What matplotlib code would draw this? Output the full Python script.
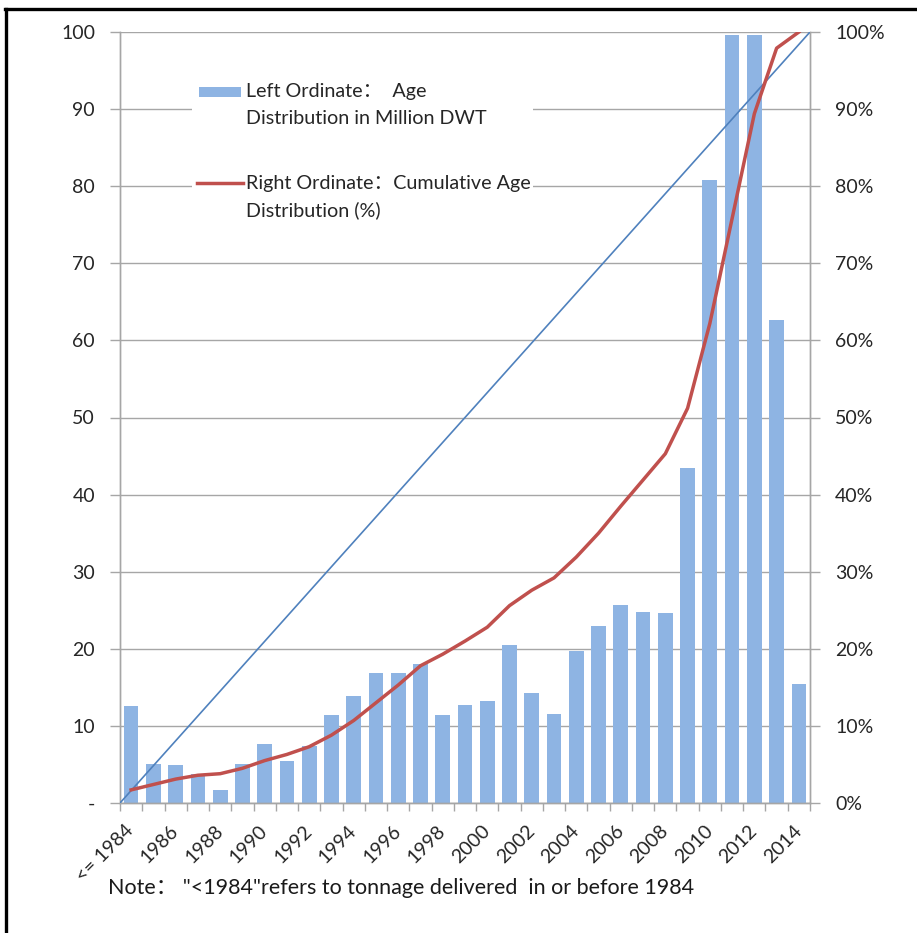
import matplotlib
matplotlib.use('Agg')
import matplotlib.pyplot as plt
from matplotlib.patches import Rectangle
from matplotlib.lines import Line2D
import numpy as np

plt.rcParams['font.family'] = ['Lato', 'Noto Sans CJK SC', 'DejaVu Sans']

# age distribution of the fleet
years = ['<= 1984'] + [str(y) for y in range(1985, 2015)]
dwt_mn = [12.6, 5.1, 4.9, 3.7, 1.7, 5.1, 7.6, 5.4, 7.4, 11.4,
          13.9, 16.9, 16.9, 18.0, 11.4, 12.7, 13.2, 20.5, 14.3, 11.5,
          19.7, 23.0, 25.7, 24.8, 24.7, 43.5, 80.8, 99.6, 99.6, 62.6,
          15.4]
cum_pct = [1.7, 2.4, 3.1, 3.6, 3.8, 4.5, 5.5, 6.3, 7.3, 8.8,
           10.7, 13.0, 15.3, 17.8, 19.3, 21.0, 22.8, 25.6, 27.6, 29.2,
           31.9, 35.0, 38.5, 41.9, 45.3, 51.2, 62.2, 75.8, 89.4, 97.9,
           100.0]
left_ticks = [0, 10, 20, 30, 40, 50, 60, 70, 80, 90, 100]
left_labels = ['-'] + [str(t) for t in left_ticks[1:]]
right_labels = ['%d%%' % t for t in left_ticks]

bar_c = '#8EB4E3'
red_c = '#C0504D'
blue_c = '#4F81BD'
grid_c = '#A6A6A6'
fs = 14

W, H = 917, 933
fig = plt.figure(figsize=(W / 100, H / 100), dpi=100)
x0, x1, yb, yt = 120, 810, 803, 32
ax = fig.add_axes([x0 / W, 1 - yb / H, (x1 - x0) / W, (yb - yt) / H])
ax2 = ax.twinx()

x = np.arange(len(years))
ax.bar(x, dwt_mn, width=0.66, color=bar_c, zorder=2)
ax.set_xlim(-0.5, len(years) - 0.5)
ax.set_ylim(0, 100)
ax.set_yticks(left_ticks)
ax.set_yticklabels(left_labels, fontsize=fs, color='#262626')
ax.yaxis.grid(True, color=grid_c, lw=1.0)
ax.set_axisbelow(True)

ax.set_xticks(x[::2])
ax.set_xticklabels(years[::2], rotation=45, ha='right', va='center',
                   rotation_mode='anchor', fontsize=fs, color='#262626')
ax.set_xticks(np.arange(-0.5, len(years)), minor=True)
ax.tick_params(axis='x', which='major', length=0, pad=18)
ax.tick_params(axis='x', which='minor', length=6, color=grid_c, width=1.0)
ax.tick_params(axis='y', length=7, color=grid_c, width=1.0, pad=11)

for a in (ax, ax2):
    a.spines['top'].set_visible(False)
    for s in ['left', 'right', 'bottom']:
        a.spines[s].set_color(grid_c)
        a.spines[s].set_linewidth(1.0)

# cumulative share and the even-spread reference line
ax2.plot([-0.5, len(years) - 0.5], [0, 100], color=blue_c, lw=1.2, zorder=3)
ax2.plot(x, cum_pct, color=red_c, lw=2.5, zorder=4)
ax2.set_ylim(0, 100)
ax2.set_yticks(left_ticks)
ax2.set_yticklabels(right_labels, fontsize=fs, color='#262626')
ax2.tick_params(axis='y', length=7, color=grid_c, width=1.0, pad=11)


def ax_x(px):
    return (px - x0) / (x1 - x0)


def ax_y(py):
    return (yb - py) / (yb - yt)


# legend drawn by hand
ax2.add_patch(Rectangle((ax_x(192), ax_y(228)), ax_x(533) - ax_x(192),
                        ax_y(72) - ax_y(228), transform=ax2.transAxes,
                        facecolor='white', edgecolor='none', zorder=5))
ax2.add_patch(Rectangle((ax_x(199), ax_y(97)), ax_x(241) - ax_x(199),
                        ax_y(87) - ax_y(97), transform=ax2.transAxes,
                        facecolor=bar_c, edgecolor='none', zorder=6))
ax2.add_line(Line2D([ax_x(197), ax_x(243)], [ax_y(183), ax_y(183)],
                    transform=ax2.transAxes, color=red_c, lw=2.5, zorder=6))
leg_lines = [(92, 'Left Ordinate：  Age'),
             (118, 'Distribution in Million DWT'),
             (183, 'Right Ordinate：Cumulative Age'),
             (210, 'Distribution (%)')]
for py, s in leg_lines:
    ax2.text(ax_x(246), ax_y(py), s, transform=ax2.transAxes, fontsize=14.2,
             color='#262626', ha='left', va='center', zorder=7)

fig.text(108 / W, 1 - 888 / H,
         'Note： "<1984"refers to tonnage delivered  in or before 1984',
         fontsize=15.5, color='#1a1a1a', ha='left', va='center')

# frame around the figure
fig.add_artist(Line2D([5 / W, 1], [1 - 9 / H, 1 - 9 / H],
                      transform=fig.transFigure, color='black', lw=2.4))
fig.add_artist(Line2D([6 / W, 6 / W], [0, 1 - 9 / H],
                      transform=fig.transFigure, color='black', lw=2.4))

fig.savefig('out.png', dpi=100, facecolor='white')
